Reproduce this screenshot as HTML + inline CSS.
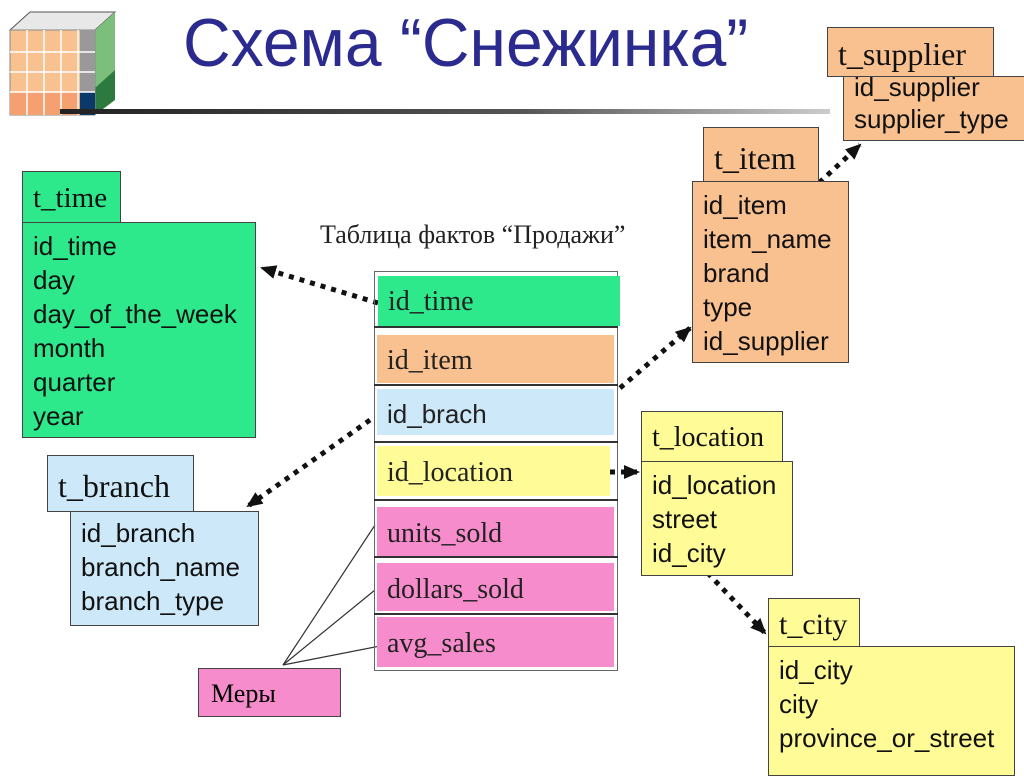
<!DOCTYPE html>
<html><head><meta charset="utf-8"><style>
*{margin:0;padding:0;box-sizing:border-box}
body{width:1024px;height:767px;background:#fff;position:relative;overflow:hidden;font-family:"Liberation Sans",sans-serif}
.b{position:absolute;border:1.5px solid #444}
.h{font-family:"Liberation Serif",serif;font-size:29px;color:#111;padding-left:10px;line-height:1}
.t{font-size:26px;color:#111;line-height:34px;padding-left:10px;white-space:nowrap}
.r{position:absolute;font-family:"Liberation Serif",serif;font-size:28px;color:#222;padding-left:10px}
.g{background:#2ee88c}.o{background:#f9c090}.bl{background:#cde8f8}.y{background:#fffb96}.p{background:#f78ccc}
</style></head><body>
<svg style="position:absolute;left:0;top:0" width="160" height="120">
<polygon points="10,30 95,30 115,12 30,12" fill="#e8e8e8" stroke="#555"/>
<polygon points="95,30 115,12 115,100 95,115" fill="#2d7a40"/>
<polygon points="95,30 115,12 115,70 95,88" fill="#7cbf7c"/>
<rect x="10" y="30" width="85" height="85" fill="#f9c090" stroke="#888"/>
<rect x="10" y="92" width="85" height="23" fill="#f4a070"/>
<rect x="80" y="30" width="15" height="62" fill="#999"/>
<rect x="80" y="92" width="15" height="23" fill="#0b3a6a"/>
<g stroke="#fff" stroke-width="1.5"><line x1="27" y1="30" x2="27" y2="115"/><line x1="44" y1="30" x2="44" y2="115"/><line x1="61" y1="30" x2="61" y2="115"/><line x1="78" y1="30" x2="78" y2="115"/><line x1="10" y1="52" x2="95" y2="52"/><line x1="10" y1="72" x2="95" y2="72"/><line x1="10" y1="92" x2="95" y2="92"/></g>
</svg>
<div style="position:absolute;left:183px;top:4px;font-size:68px;color:#2b2b8f;white-space:nowrap;transform:scaleX(0.97);transform-origin:left top">Схема “Снежинка”</div>
<div style="position:absolute;left:60px;top:109px;width:770px;height:5px;background:linear-gradient(90deg,#222,#555 60%,#ccc)"></div>

<svg style="position:absolute;left:0;top:0" width="1024" height="767">
<defs><marker id="a" markerUnits="userSpaceOnUse" markerWidth="16" markerHeight="14" refX="14" refY="7" orient="auto"><path d="M0,0 L16,7 L0,14z" fill="#111"/></marker></defs>
<g stroke="#111" stroke-width="5" stroke-dasharray="5,6" fill="none" marker-end="url(#a)">
<line x1="378" y1="303" x2="262" y2="268"/>
<line x1="370" y1="420" x2="248" y2="506"/>
<line x1="620" y1="388" x2="690" y2="328"/>
<line x1="610" y1="472" x2="638" y2="472"/>
<line x1="795" y1="205" x2="860" y2="145"/>
<line x1="700" y1="565" x2="765" y2="633"/>
</g>
<g stroke="#333" stroke-width="1.2"><line x1="283" y1="665" x2="375" y2="525"/><line x1="283" y1="665" x2="375" y2="590"/><line x1="283" y1="665" x2="385" y2="645"/></g>
</svg>

<div style="position:absolute;left:320px;top:220px;font-family:'Liberation Serif',serif;font-size:26px;color:#222;white-space:nowrap">Таблица фактов “Продажи”</div>
<div class="b" style="left:374px;top:271px;width:244px;height:400px;border-color:#666"></div>
<div class="r g" style="left:378px;top:276px;width:242px;height:50px;line-height:52px">id_time</div>
<div class="r o" style="left:377px;top:335px;width:237px;height:48px;line-height:52px">id_item</div>
<div class="r bl" style="left:377px;top:389px;width:237px;height:46px;line-height:50px;font-family:'Liberation Sans',sans-serif;font-size:26px">id_brach</div>
<div class="r y" style="left:377px;top:446px;width:233px;height:50px;line-height:54px">id_location</div>
<div class="r p" style="left:377px;top:507px;width:237px;height:49px;line-height:54px">units_sold</div>
<div class="r p" style="left:377px;top:563px;width:237px;height:48px;line-height:54px">dollars_sold</div>
<div class="r p" style="left:377px;top:617px;width:237px;height:50px;line-height:54px">avg_sales</div>
<div style="position:absolute;left:374px;width:244px;top:326px;border-top:2px solid #333"></div>
<div style="position:absolute;left:374px;width:244px;top:384px;border-top:2px solid #333"></div>
<div style="position:absolute;left:374px;width:244px;top:441px;border-top:2px solid #333"></div>
<div style="position:absolute;left:374px;width:244px;top:499px;border-top:2px solid #333"></div>
<div style="position:absolute;left:374px;width:244px;top:556px;border-top:2px solid #333"></div>
<div style="position:absolute;left:374px;width:244px;top:613px;border-top:2px solid #333"></div>

<div class="b g" style="left:22px;top:222px;width:234px;height:216px"><div class="t" style="padding-top:6px">id_time<br>day<br>day_of_the_week<br>month<br>quarter<br>year</div></div>
<div class="b g h" style="left:22px;top:171px;width:99px;height:52px;padding-top:12px">t_time</div>

<div class="b bl" style="left:70px;top:511px;width:189px;height:115px"><div class="t" style="padding-top:4px">id_branch<br>branch_name<br>branch_type</div></div>
<div class="b bl h" style="left:47px;top:455px;width:147px;height:57px;padding-top:14px;font-size:32px">t_branch</div>

<div class="b o" style="left:843px;top:76px;width:190px;height:65px"><div class="t" style="line-height:32px;margin-top:-6px">id_supplier<br>supplier_type</div></div>
<div class="b o h" style="left:827px;top:27px;width:167px;height:50px;padding-top:10px;font-size:32px">t_supplier</div>

<div class="b o" style="left:692px;top:181px;width:157px;height:182px"><div class="t" style="padding-top:6px">id_item<br>item_name<br>brand<br>type<br>id_supplier</div></div>
<div class="b o h" style="left:703px;top:127px;width:116px;height:55px;padding-top:14px;font-size:32px">t_item</div>

<div class="b y" style="left:641px;top:461px;width:152px;height:115px"><div class="t" style="padding-top:6px">id_location<br>street<br>id_city</div></div>
<div class="b y h" style="left:641px;top:411px;width:142px;height:51px;padding-top:12px;font-size:28px">t_location</div>

<div class="b y" style="left:768px;top:646px;width:247px;height:130px"><div class="t" style="padding-top:6px">id_city<br>city<br>province_or_street</div></div>
<div class="b y h" style="left:768px;top:598px;width:92px;height:49px;padding-top:11px;font-size:30px">t_city</div>

<div class="b p" style="left:198px;top:668px;width:143px;height:49px;font-family:'Liberation Serif',serif;font-size:26px;line-height:50px;padding-left:12px">Меры</div>
</body></html>
